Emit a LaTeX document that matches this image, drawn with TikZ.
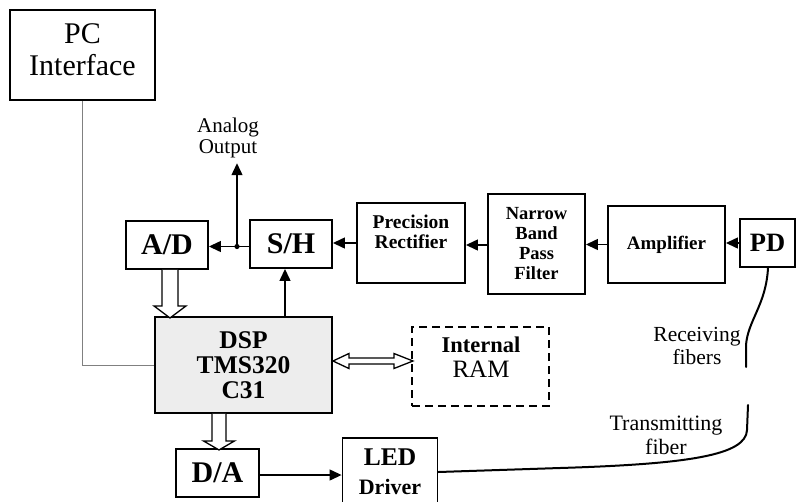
\documentclass[tikz,border=0pt]{standalone}
\usepackage{fontspec}
\setmainfont{Liberation Serif}
\usetikzlibrary{arrows.meta,calc}
\tikzset{
  box/.style={draw, line width=1.9pt, inner sep=0pt, align=center},
  arr/.style={line width=1.3pt, -{Triangle[length=12pt,width=11pt]}},
  hollow/.style={draw, line width=1.3pt, fill=white, line join=miter},
  fiber/.style={line width=2pt, line cap=round},
  lbl/.style={align=center, inner sep=0pt},
}
\newcommand{\fs}[2]{\fontsize{#1}{#2}\selectfont}
\begin{document}
\begin{tikzpicture}[x=1pt,y=-1pt]
\useasboundingbox (0,0) rectangle (800,501);
\clip (0,0) rectangle (800,501);
% boxes
\node[box, minimum width=145, minimum height=90] (pc) at (82.5,55) {};
\node[lbl, font=\fs{30}{32}] (pct) at (82.5,50) {PC\\Interface};
\node[box, minimum width=82, minimum height=48, font=\fs{30}{30}\bfseries] (ad) at (167,245) {A/D};
\node[box, minimum width=82, minimum height=48, font=\fs{30}{30}\bfseries] (sh) at (291,244) {S/H};
\node[box, minimum width=108, minimum height=80] (pr) at (411,243) {};
\node[lbl, font=\fs{19.5}{20}\bfseries] (prt) at (411,232) {Precision\\Rectifier};
\node[box, minimum width=97, minimum height=100, font=\fs{18.5}{20}\bfseries] (nb) at (536.5,244) {Narrow\\Band\\Pass\\Filter};
\node[box, minimum width=117, minimum height=77, font=\fs{19}{22}\bfseries] (amp) at (666.5,244.5) {Amplifier};
\node[box, minimum width=55, minimum height=48, font=\fs{26.5}{28}\bfseries] (pd) at (767.5,243) {PD};
\node[box, minimum width=177, minimum height=96, fill=black!7, font=\fs{25.5}{25}\bfseries] (dsp) at (243.5,365) {DSP\\TMS320\\C31};
\node[box, dashed, dash pattern=on 8pt off 5pt, line width=1.6pt, minimum width=137, minimum height=79] (ram) at (480.5,366.5) {};
\node[lbl, font=\fs{25}{25}] (ramt) at (481,357) {{\fs{22.5}{25}\bfseries Internal}\\RAM};
\node[box, minimum width=83, minimum height=48, font=\fs{30}{30}\bfseries] (da) at (217.5,473) {D/A};
\node[box, minimum width=95, minimum height=66] (led) at (390,471) {};
\node[lbl, font=\fs{25.5}{29}\bfseries] (ledt) at (390,472) {LED\\{\fs{22}{29}\bfseries Driver}};
% labels
\node[lbl, font=\fs{21}{21}] (ao) at (228,138) {Analog\\Output};
\node[lbl, font=\fs{21.5}{23}] (rf) at (697,346) {Receiving\\fibers};
\node[lbl, font=\fs{22}{24}] (tf) at (666,435) {Transmitting\\fiber};
% signal chain
\draw[arr] (pd.west) -- (pd.west -| amp.east);
\draw[arr] (amp.west) -- (amp.west -| nb.east);
\draw[arr] ([yshift=-1]nb.west) -- ([yshift=-1]nb.west -| pr.east);
\draw[arr] (pr.west) -- (pr.west -| sh.east);
\coordinate (j) at (237,246.5);
\draw[arr] (sh.west |- j) -- (ad.east |- j);
\fill (j) circle (2.6pt);
\draw[arr] (j) -- ($(j |- ao.south)+(0,5)$);
\draw[arr] ([xshift=41.5]dsp.north) -- ([xshift=41.5]dsp.north |- sh.south);
\draw[arr] ([yshift=-2]da.east) -- ([yshift=-2]da.east -| led.west);
% PC link
\draw[gray, line width=1pt] (pc.south) |- (dsp.west);
% hollow arrows
\draw[hollow] ([xshift=-5]ad.south) -- ++(0,36) -- ++(-8,0) -- ++(16,12) -- ++(16,-12) -- ++(-8,0) -- ++(0,-36);
\draw[hollow] ([xshift=-31.5]dsp.south) -- ++(0,27) -- ++(-8.5,0) -- ++(15.5,9) -- ++(15.5,-9) -- ++(-8.5,0) -- ++(0,-27);
\draw[hollow] ([yshift=4]dsp.east) -- ++(16,-7.5) -- ++(0,4.5) -- ++(45,0) -- ++(0,-4.5) -- ++(19,7.5) -- ++(-19,7.5) -- ++(0,-4.5) -- ++(-45,0) -- ++(0,4.5) -- cycle;
% fibers
\coordinate (rxend) at (746,367);
\coordinate (txend) at (748,405);
\draw[fiber] ([xshift=0.5]pd.south) .. controls (766,305) and (748,320) .. (746,345) -- (rxend);
\draw[fiber] ([yshift=-1]led.east) -- (560,468) .. controls (690,464) and (746,455) .. (747,430) -- (txend);
\end{tikzpicture}
\end{document}
